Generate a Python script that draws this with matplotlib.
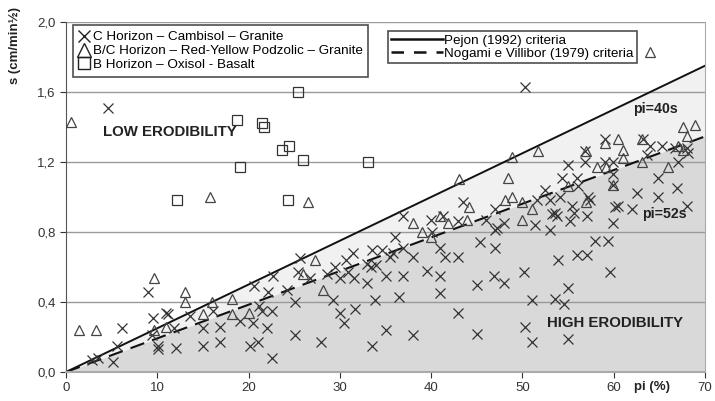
import numpy as np
import matplotlib
matplotlib.use("Agg")
import matplotlib.pyplot as plt
from matplotlib.lines import Line2D

plt.rcParams['font.family'] = ['Liberation Sans', 'DejaVu Sans']

# C Horizon - Cambisol - Granite (x markers)
cross_pi = [2.9, 3.5, 5.2, 5.6, 6.1, 9.0, 9.5, 9.4, 10.1, 10.1, 11.0, 11.2, 11.8, 12.1, 13.6,
            15.0, 15.0, 16.1, 16.9, 16.9, 19.1, 20.2, 20.6, 20.5, 21.0, 21.1, 21.5, 22.0, 22.6,
            22.6, 22.7, 22.1, 24.2, 25.1, 25.1, 25.6, 25.4, 26.7, 27.9, 28.6, 29.3, 29.5, 30.0,
            30.0, 30.5, 30.7, 31.4, 30.9, 31.6, 31.7, 4.6,
            33.0, 33.5, 33.0, 33.4, 34.0, 34.6, 35.0, 33.8, 35.0, 33.5, 35.5, 35.8, 36.9, 36.9,
            36.0, 38.0, 36.9, 36.5, 38.0, 39.5, 40.0, 40.1, 41.3, 41.0, 41.5, 41.0, 41.0, 42.9,
            42.9, 42.9, 43.5, 45.3, 45.0, 45.0, 46.0, 47.0, 47.0, 47.2, 47.0, 46.9, 48.0, 48.0,
            50.2, 50.3, 51.0, 51.0, 51.4, 51.6, 50.3,
            52.5, 53.0, 54.1, 53.2, 53.6, 53.8, 53.0, 55.4, 55.6, 55.2, 55.0, 54.3, 56.0, 56.1,
            56.8, 56.8, 57.2, 57.4, 57.1, 58.0, 59.4, 53.9, 56.0, 57.1, 59.6, 55.0, 53.6, 54.5,
            55.0, 59.0, 59.0, 59.9, 59.9, 59.9, 60.1, 60.5, 59.9, 62.0, 62.5, 63.2, 64.0, 63.6,
            65.3, 66.7, 68.0, 68.1, 67.0, 64.8, 66.9, 64.8, 68.0]
cross_s = [0.07, 0.08, 0.06, 0.15, 0.25, 0.46, 0.31, 0.21, 0.15, 0.13, 0.34, 0.33, 0.25, 0.14, 0.32,
           0.25, 0.15, 0.35, 0.26, 0.17, 0.29, 0.15, 0.49, 0.28, 0.17, 0.38, 0.35, 0.25, 0.08,
           0.35, 0.55, 0.46, 0.47, 0.40, 0.21, 0.65, 0.57, 0.54, 0.17, 0.56, 0.41, 0.60, 0.54,
           0.34, 0.28, 0.64, 0.68, 0.57, 0.54, 0.36, 1.51,
           0.51, 0.70, 0.62, 0.60, 0.61, 0.70, 0.55, 0.41, 0.24, 0.15, 0.66, 0.68, 0.71, 0.89,
           0.77, 0.66, 0.55, 0.43, 0.21, 0.58, 0.87, 0.80, 0.89, 0.71, 0.66, 0.55, 0.45, 0.86,
           0.66, 0.34, 0.97, 0.74, 0.50, 0.22, 0.87, 0.93, 0.81, 0.82, 0.71, 0.55, 0.85, 0.51,
           0.57, 0.26, 0.41, 0.17, 0.84, 0.98, 1.63,
           1.04, 0.98, 1.00, 0.90, 0.91, 0.89, 0.81, 0.95, 0.91, 0.86, 1.18, 1.11, 1.11, 1.06,
           1.20, 1.26, 1.00, 0.98, 0.89, 0.75, 0.75, 0.64, 0.67, 0.67, 0.57, 0.48, 0.42, 0.39,
           0.19, 1.33, 1.20, 1.20, 1.13, 1.07, 0.94, 0.95, 0.85, 0.93, 1.02, 1.33, 1.29, 1.24,
           1.29, 1.28, 1.28, 1.25, 1.20, 1.11, 1.05, 1.00, 0.95]

# B/C Horizon - Red-Yellow Podzolic - Granite (triangles)
tri_pi = [0.6, 1.4, 3.3, 9.6, 13.0, 13.0, 9.6, 11.0, 15.0, 16.0, 18.2, 18.2, 20.1, 15.8, 26.5,
          26.0, 27.3, 28.1, 38.0, 39.0, 40.0, 41.0, 41.9, 43.9, 44.2, 43.1, 48.4, 48.9, 51.7,
          48.1, 48.9, 50.0, 51.0, 50.0, 55.0, 57.0, 59.0, 60.5, 61.0, 61.0, 63.1, 63.1, 58.2,
          59.2, 59.9, 57.0, 65.9, 67.0, 67.6, 68.9, 68.0, 67.6, 64.0]
tri_s = [1.43, 0.24, 0.24, 0.54, 0.46, 0.40, 0.24, 0.26, 0.33, 0.40, 0.42, 0.33, 0.34, 1.00, 0.97,
         0.56, 0.64, 0.47, 0.85, 0.80, 0.77, 0.89, 0.85, 0.87, 0.94, 1.10, 1.11, 1.23, 1.26,
         0.98, 1.00, 0.97, 0.93, 0.87, 1.06, 1.26, 1.31, 1.33, 1.22, 1.27, 1.33, 1.20, 1.17,
         1.17, 1.07, 0.97, 1.17, 1.29, 1.40, 1.41, 1.35, 1.27, 1.83]

# B Horizon - Oxisol - Basalt (squares)
sq_pi = [25.4, 18.7, 21.5, 21.7, 23.7, 24.4, 26.0, 33.1, 19.1, 24.3, 12.2]
sq_s = [1.60, 1.44, 1.42, 1.40, 1.27, 1.29, 1.21, 1.20, 1.17, 0.98, 0.98]

# criteria: pi = k * s
pejon_k = 40
nogami_k = 52

x_ticks = [0, 10, 20, 30, 40, 50, 60, 70]
y_ticks = [0.0, 0.4, 0.8, 1.2, 1.6, 2.0]
y_labels = ['0,0', '0,4', '0,8', '1,2', '1,6', '2,0']

fig = plt.figure(figsize=(7.15, 4.01), dpi=100)
ax = fig.add_axes([66 / 715, 1 - 372 / 401, 639 / 715, 350 / 401])

xx = np.array([0, 70])
ax.fill_between(xx, 0, xx / pejon_k, color='#f1f1f1', lw=0, zorder=0.5)
ax.fill_between(xx, 0, xx / nogami_k, color='#d9d9d9', lw=0, zorder=0.6)
ax.plot(xx, xx / pejon_k, color='#111111', lw=1.4, zorder=2)
ax.plot(xx, xx / nogami_k, color='#111111', lw=1.5, dashes=(7, 4), zorder=2)

ax.plot(cross_pi, cross_s, ls='none', marker='x', ms=7, mew=0.9, color='#333333', zorder=3)
ax.plot(tri_pi, tri_s, ls='none', marker='^', ms=7.5, mew=0.9, mfc='none', mec='#444444', zorder=3)
ax.plot(sq_pi, sq_s, ls='none', marker='s', ms=6.5, mew=0.9, mfc='none', mec='#333333', zorder=3)

ax.set_xlim(0, 70)
ax.set_ylim(0, 2.0)
ax.set_xticks(x_ticks)
ax.set_yticks(y_ticks)
ax.set_yticklabels(y_labels)
ax.tick_params(labelsize=9.5, colors='#333333', length=4, width=0.8)
ax.yaxis.grid(True, color='#9a9a9a', lw=1)
ax.set_axisbelow('line')
ax.spines['top'].set_visible(False)
ax.spines['right'].set_color('#aaaaaa')
ax.spines['left'].set_color('#555555')
ax.spines['bottom'].set_color('#aaaaaa')
ax.spines['bottom'].set_linewidth(1.5)

ax.text(4, 1.37, 'LOW ERODIBILITY', fontsize=10.8, fontweight='bold', color='#222222', va='center')
ax.text(52.7, 0.28, 'HIGH ERODIBILITY', fontsize=10.8, fontweight='bold', color='#222222', va='center')
ax.text(62.1, 1.50, 'pi=40s', fontsize=10.2, fontweight='bold', color='#222222', va='center')
ax.text(63.1, 0.90, 'pi=52s', fontsize=10.2, fontweight='bold', color='#222222', va='center')

fig.text(15 / 715, 1 - 45 / 401, 's (cm/min½)', rotation=90, fontsize=9.5, fontweight='bold',
         color='#222222', ha='center', va='center')
fig.text(652 / 715, 1 - 387 / 401, 'pi (%)', fontsize=9.5, fontweight='bold', color='#222222',
         ha='center', va='center')

h1 = [Line2D([], [], ls='none', marker='x', ms=9, mew=1, color='#222222'),
      Line2D([], [], ls='none', marker='^', ms=10, mew=1, mfc='none', mec='#222222'),
      Line2D([], [], ls='none', marker='s', ms=9, mew=1, mfc='none', mec='#222222')]
l1 = ['C Horizon – Cambisol – Granite',
      'B/C Horizon – Red-Yellow Podzolic – Granite',
      'B Horizon – Oxisol - Basalt']
leg1 = fig.legend(h1, l1, loc='upper left', bbox_to_anchor=(73 / 715, 1 - 25 / 401),
                  fontsize=9.7, frameon=True, fancybox=False, edgecolor='#222222',
                  handlelength=0.8, handletextpad=0.2, labelspacing=0.1,
                  borderpad=0.45, borderaxespad=0)
leg1.get_frame().set_linewidth(1.2)

h2 = [Line2D([], [], color='#111111', lw=1.8),
      Line2D([], [], color='#111111', lw=1.8, dashes=(5, 4))]
l2 = ['Pejon (1992) criteria', 'Nogami e Villibor (1979) criteria']
leg2 = fig.legend(h2, l2, loc='upper left', bbox_to_anchor=(388 / 715, 1 - 31 / 401),
                  fontsize=9.7, frameon=True, fancybox=False, edgecolor='#222222',
                  handlelength=3.8, handletextpad=0.1, labelspacing=0.05,
                  borderpad=0.25, borderaxespad=0)
leg2.get_frame().set_linewidth(1.2)

fig.savefig('out.png', dpi=100)
